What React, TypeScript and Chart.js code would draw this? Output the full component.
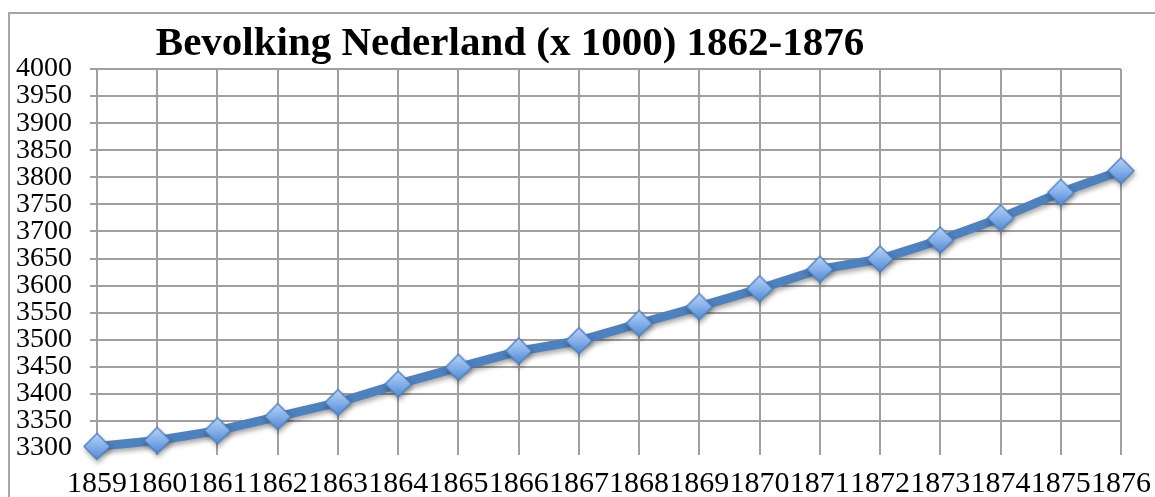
import { useEffect, useRef } from 'react';
import { Chart, registerables } from 'chart.js';

Chart.register(...registerables);

const TITLE = 'Bevolking Nederland (x 1000) 1862-1876';
const years = ['1859', '1860', '1861', '1862', '1863', '1864', '1865', '1866', '1867', '1868', '1869', '1870', '1871', '1872', '1873', '1874', '1875', '1876'];
const population = [3303, 3314, 3332, 3358, 3384, 3418, 3449, 3479, 3498, 3530, 3561, 3594, 3630, 3649, 3684, 3725, 3772, 3812];
const yMin = 3300;
const yMax = 4000;
const yStep = 50;

const GRID = '#a0a0a0';
const LINE = '#4F81BD';

function makeDiamond(): HTMLCanvasElement {
  const c = document.createElement('canvas');
  const s = 30;
  c.width = s;
  c.height = s;
  const g = c.getContext('2d')!;
  const m = s / 2;
  const r = 13;
  const grad = g.createLinearGradient(0, m - r, 0, m + r);
  grad.addColorStop(0, '#b9d3f6');
  grad.addColorStop(0.5, '#85b0ea');
  grad.addColorStop(1, '#5288d3');
  g.beginPath();
  g.moveTo(m, m - r);
  g.lineTo(m + r, m);
  g.lineTo(m, m + r);
  g.lineTo(m - r, m);
  g.closePath();
  g.fillStyle = grad;
  g.fill();
  g.lineWidth = 1.3;
  g.strokeStyle = '#4a7ebb';
  g.stroke();
  return c;
}

const decorPlugin = {
  id: 'decor',
  beforeDraw(chart: any) {
    const ctx = chart.ctx;
    ctx.save();
    ctx.strokeStyle = '#a6a6a6';
    ctx.lineWidth = 2;
    ctx.beginPath();
    ctx.moveTo(9, chart.height);
    ctx.lineTo(9, 13);
    ctx.lineTo(chart.width, 13);
    ctx.stroke();
    ctx.restore();
  },
  beforeDatasetsDraw(chart: any) {
    const ctx = chart.ctx;
    ctx.save();
    ctx.shadowColor = 'rgba(0,0,0,0.35)';
    ctx.shadowBlur = 5;
    ctx.shadowOffsetX = 1;
    ctx.shadowOffsetY = 3;
  },
  afterDatasetsDraw(chart: any) {
    chart.ctx.restore();
  },
  afterDraw(chart: any) {
    const ctx = chart.ctx;
    ctx.save();
    ctx.fillStyle = '#000';
    ctx.font = 'bold 41px "Liberation Serif"';
    ctx.textAlign = 'center';
    ctx.textBaseline = 'alphabetic';
    ctx.fillText(TITLE, 510, 55);
    ctx.restore();
  },
};

export default function App() {
  const ref = useRef<HTMLCanvasElement | null>(null);

  useEffect(() => {
    if (!ref.current) return;
    const diamond = makeDiamond();
    const chart = new Chart(ref.current, {
      type: 'line',
      data: {
        labels: years,
        datasets: [
          {
            data: population,
            borderColor: LINE,
            borderWidth: 9,
            tension: 0,
            pointStyle: diamond as any,
            pointRadius: 13,
            pointHoverRadius: 13,
            clip: false as any,
          },
        ],
      },
      options: {
        animation: false,
        responsive: false,
        events: [],
        layout: { padding: { left: 0, top: 69, right: 34, bottom: 0 } },
        plugins: {
          legend: { display: false },
          title: { display: false },
          tooltip: { enabled: false },
        },
        scales: {
          x: {
            offset: false,
            grid: { color: GRID, lineWidth: 2, tickLength: 7, drawTicks: true },
            border: { display: false },
            ticks: {
              color: '#000',
              font: { family: '"Liberation Serif"', size: 30 },
              padding: 11,
              maxRotation: 0,
              autoSkip: false,
            },
            afterFit(scale: any) {
              scale.height = 49;
              scale.paddingLeft = 0;
              scale.paddingRight = 0;
            },
          },
          y: {
            min: yMin,
            max: yMax,
            grid: {
              color: (c: any) => (c.tick && c.tick.value === yMin ? 'rgba(0,0,0,0)' : GRID),
              lineWidth: 2,
              tickLength: 7,
            },
            border: { display: true, color: GRID, width: 2 },
            ticks: {
              stepSize: yStep,
              autoSkip: false,
              color: '#000',
              font: { family: '"Liberation Serif"', size: 28 },
              padding: 18,
              callback: (v: any) => String(v),
            },
            afterFit(scale: any) {
              scale.width = 97;
              scale.paddingTop = 0;
              scale.paddingBottom = 0;
            },
          },
        },
      },
      plugins: [decorPlugin],
    });
    return () => chart.destroy();
  }, []);

  return (
    <div style={{ position: 'fixed', left: 0, top: 0, width: 1155, height: 497, background: '#fff' }}>
      <canvas ref={ref} width={1155} height={497} />
    </div>
  );
}
